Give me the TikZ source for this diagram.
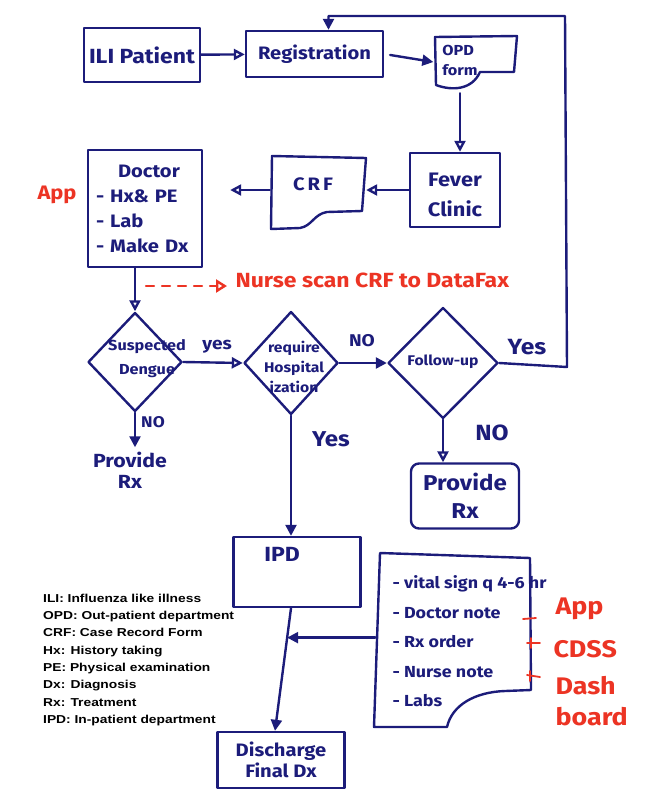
\documentclass[tikz,border=0pt]{standalone}
\usepackage{fontspec}
\setmainfont{Liberation Sans}
\newfontfamily\hand{Fira Sans}[FakeStretch=1.12]
\usetikzlibrary{arrows.meta,shapes.geometric,calc}
\definecolor{ink}{RGB}{28,28,122}
\definecolor{redink}{RGB}{236,52,36}
\begin{document}
\begin{tikzpicture}[x=1pt,y=-1pt, line width=2.4pt, line join=round, line cap=round,
  box/.style={draw=ink, rectangle, inner sep=0pt},
  dia/.style={draw=ink, diamond, inner sep=0pt},
  htext/.style={text=ink, align=center},
  oarr/.style={draw=ink, -{Triangle[open,length=11pt,width=11pt]}},
  farr/.style={draw=ink, -{Triangle[length=11pt,width=11pt]}},
  fs/.style 2 args={font=\hand\bfseries\fontsize{#1}{#2}\selectfont},
  rlbl/.style={text=redink, fs={24}{31}, align=left}
]
\useasboundingbox (0,0) rectangle (652,806);

% top row
\node[box, htext, fs={20.5}{24}, minimum width=116pt, minimum height=54pt] (ili) at (142,55) {ILI Patient};
\node[box, htext, fs={18}{22}, minimum width=137pt, minimum height=46pt] (reg) at (314.5,54) {Registration};
\node[minimum width=83pt, minimum height=52pt] (opd) at (476,62) {};
\node[htext, fs={14.5}{20}, align=left] (opdt) at (460,60) {OPD\\form};
\draw[ink] (435,37) -- (517,36) -- (514,72) -- (480,72)
  .. controls (472,90) and (452,91) .. (436,85) -- cycle;

% second row
\node[box, htext, fs={19.5}{30}, minimum width=90pt, minimum height=74pt] (fever) at (455,190) {};
\node[htext, fs={19.5}{30}] (fevert) at (455,195) {Fever\\Clinic};
\node[minimum width=94pt, minimum height=74pt] (crf) at (318,190) {};
\node[htext, fs={18}{20}] (crft) at (313,184) {C\,R\,F};
\draw[ink] (272,156) -- (366,158) -- (362,211) -- (327,212)
  .. controls (314,214) and (312,226) .. (300,228) -- (271,229) -- cycle;
\node[box, htext, fs={18}{25}, minimum width=114pt, minimum height=117pt, text width=98pt, align=left] (doc) at (145,208.5)
  {\hspace*{22pt}Doctor\\- Hx\& PE\\- Lab\\- Make Dx};
\node[text=redink, fs={19.5}{22}] (app1) at (57,195) {App};

% dashed note
\coordinate (dstart) at (146,286);
\node[text=redink, fs={20.5}{24}, anchor=west] (nurse) at (231,280) {Nurse scan CRF to DataFax};

% diamonds
\node[dia, minimum width=94pt, minimum height=99pt] (d1) at (135,362) {};
\node[htext, fs={14.5}{24}] (d1t) at (147,359) {Suspected\\Dengue};
\node[dia, minimum width=94pt, minimum height=103pt] (d2) at (291,363) {};
\node[htext, fs={14}{20}] (d2t) at (294,367) {require\\Hospital\\ization};
\node[dia, minimum width=110pt, minimum height=111pt] (d3) at (443,363) {};
\node[htext, fs={14}{16}] (d3t) at (443,362) {Follow-up};

\node[htext, fs={19}{21}] (prov1) at (130,470) {Provide\\Rx};
\node[draw=ink, rounded corners=8pt, htext, fs={21.5}{28}, minimum width=108pt, minimum height=65pt] (prov2) at (465,496) {Provide\\Rx};

% IPD
\node[box, minimum width=127pt, minimum height=70pt] (ipd) at (297,572) {};
\node[htext, fs={20.5}{22}] (ipdt) at (282,554) {IPD};
\node[box, htext, fs={18}{21}, minimum width=127pt, minimum height=56pt] (dis) at (281,760) {Discharge\\Final Dx};

% notes document
\node[minimum width=157pt, minimum height=176pt] (notes) at (455,640) {};
\draw[ink] (380,553) -- (530,558) -- (531,690) -- (505,691)
  .. controls (475,692) and (452,705) .. (447,727) -- (374,727) -- cycle;
\node[htext, anchor=north west, align=left, fs={16}{29.5}] (notest) at (388,571)
  {- vital sign q 4-6 hr\\- Doctor note\\- Rx order\\- Nurse note\\- Labs};

% red labels
\node[rlbl, anchor=west] (rapp) at (551,609) {App};
\node[rlbl, anchor=west] (rcdss) at (549,649) {CDSS};
\node[rlbl, anchor=north west] (rdash) at (551,672) {Dash\\board};
\draw[redink, line width=1.8pt] (523,619) -- (536,618);
\draw[redink, line width=1.8pt] (527,643) -- (540,643) (531,638) -- (531,648);
\draw[redink, line width=1.8pt] (527,675) -- (540,677) (530,671) -- (530,681);

% legend
\node[anchor=north west, inner sep=0pt, font=\bfseries\fontsize{11.5}{17.3}\selectfont] (legend) at (42,589)
  {\scalebox{1.2}[1]{\begin{tabular}[t]{@{}l@{}}ILI: Influenza like illness\\OPD: Out-patient department\\CRF: Case Record Form\\Hx: History taking\\PE: Physical examination\\Dx: Diagnosis\\Rx: Treatment\\IPD: In-patient department\end{tabular}}};

% connectors
\draw[oarr] (ili) -- (reg);
\draw[farr, shorten <=6pt] (reg.east) -- (opd.west);
\draw[oarr, shorten <=4pt] ([xshift=-16pt]opd.south) -- ([xshift=-16pt]opd.south |- fever.north);
\draw[oarr] (fever.west) -- (crf.east);
\draw[oarr, shorten >=27pt] (crf.west) -- (crf.west -| doc.east);
\draw[oarr] (doc.south -| d1.north) -- (d1.north);
\draw[redink, dash pattern=on 8pt off 8pt, -{Triangle[open,length=11pt,width=13pt]}] (dstart) -- ([xshift=-4pt]dstart -| nurse.west);
\draw[oarr] (d1.east) -- (d2.west);
\node[text=ink, fs={17}{20}] (yes1) at (217,347) {yes};
\draw[farr] (d2.east) -- (d3.west);
\node[text=ink, fs={17}{20}] (no1) at (362,341) {NO};
\coordinate (lp1) at (567,367);
\coordinate (lp2) at (565,16);
\coordinate (regtop) at ([xshift=14pt]reg.north);
\draw[farr] (d3.east) -- (lp1) -- (lp2) -- (lp2 -| regtop) -- (regtop);
\node[text=ink, fs={22}{24}] (yes3) at (527,347) {Yes};
\draw[oarr] (d3.south) -- (d3.south |- prov2.north);
\node[text=ink, fs={22}{24}] (no3) at (492,433) {NO};
\draw[farr] (d1.south) -- (d1.south |- prov1.north);
\node[text=ink, fs={15.5}{18}] (no2) at (153,422) {NO};
\draw[farr] (d2.south) -- (d2.south |- ipd.north);
\node[text=ink, fs={21.5}{24}] (yes2) at (331,439) {Yes};
\coordinate (ipdb) at (ipd.south -| d2.south);
\draw[farr] (ipdb) -- ([xshift=-6pt]dis.north);
\coordinate (mid) at ($(ipdb)!0.24!([xshift=-6pt]dis.north)$);
\draw[farr] (notes.west |- mid) -- (mid);
\end{tikzpicture}
\end{document}
